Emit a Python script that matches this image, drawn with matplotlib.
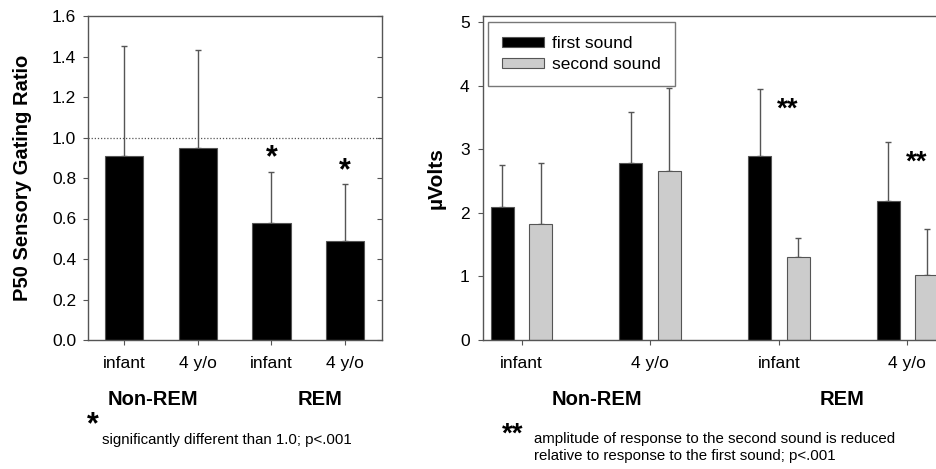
import matplotlib
matplotlib.use("Agg")
import matplotlib.pyplot as plt
import numpy as np

plt.rcParams['font.family'] = ['Liberation Sans', 'DejaVu Sans']

# left panel: gating ratio
groups = ["infant", "4 y/o", "infant", "4 y/o"]
ratio = [0.91, 0.95, 0.58, 0.49]
ratio_top = [1.45, 1.43, 0.83, 0.77]
ratio_stars = [None, None, "*", "*"]
ratio_star_y = [None, None, 0.92, 0.855]

# right panel: amplitudes
first_sound = [2.10, 2.78, 2.89, 2.19]
first_top = [2.76, 3.59, 3.95, 3.11]
second_sound = [1.82, 2.66, 1.31, 1.03]
second_top = [2.79, 3.97, 1.61, 1.75]
amp_stars = [None, None, "**", "**"]
amp_star_y = [None, None, 3.7, 2.86]

states = ["Non-REM", "REM"]
edge = "#555555"
STAR_DROP = 0.42  # glyph centre above baseline, in em

fig = plt.figure(figsize=(9.37, 4.69), dpi=100)
W, H = 937, 469


def px_axes(x0, y0, x1, y1):
    return fig.add_axes([x0 / W, 1 - y1 / H, (x1 - x0) / W, (y1 - y0) / H])


def star(ax, x, y, s, fs, **kw):
    # centre the asterisk glyph on (x, y)
    ax.annotate(s, (x, y), xytext=(0, -STAR_DROP * fs), textcoords="offset points",
                ha="center", va="baseline", fontsize=fs, fontweight="bold", **kw)


# ---- left panel
ax1 = px_axes(88, 16, 382, 340)
x = np.arange(len(groups))
ax1.bar(x, ratio, width=0.52, color="black", edgecolor=edge, linewidth=0.8, zorder=2)
err = np.array(ratio_top) - np.array(ratio)
ax1.errorbar(x, ratio, yerr=[np.zeros_like(err), err], fmt="none",
             ecolor=edge, elinewidth=1, capsize=2, capthick=1, zorder=1)
ax1.axhline(1.0, color="#555555", linestyle=(0, (1, 1.5)), linewidth=0.9, zorder=0)
ax1.set_xlim(-0.49, 3.5)
ax1.set_ylim(0, 1.6)
yt = np.arange(0, 1.61, 0.2)
ax1.set_yticks(yt)
ax1.set_yticklabels([f"{v:.1f}" for v in yt], fontsize=12.5)
ax1.set_xticks(x)
ax1.set_xticklabels(groups, fontsize=12.5)
ax1.tick_params(axis="y", direction="out", length=3.6, color=edge, right=True, pad=5)
ax1.tick_params(axis="x", direction="out", length=3.6, color=edge, pad=8)
for t in ax1.yaxis.get_major_ticks():
    t.tick2line.set_marker(matplotlib.markers.TICKLEFT)
for s in ax1.spines.values():
    s.set_color(edge)
    s.set_linewidth(1)
ax1.set_ylabel("P50 Sensory Gating Ratio", fontsize=14.5, fontweight="bold", labelpad=14)
for xi, sy, st in zip(x, ratio_star_y, ratio_stars):
    if st:
        star(ax1, xi, sy, st, 22)

ax1.text(0.221, -0.185, states[0], transform=ax1.transAxes, ha="center",
         fontsize=14.5, fontweight="bold", va="center")
ax1.text(0.789, -0.185, states[1], transform=ax1.transAxes, ha="center",
         fontsize=14.5, fontweight="bold", va="center")
fig.text(93 / W, 1 - 420 / H - STAR_DROP * 22 / 72 / 4.69, "*", fontsize=22,
         fontweight="bold", ha="center", va="baseline")
fig.text(102 / W, 1 - 440 / H, "significantly different than 1.0; p<.001",
         fontsize=10.8, ha="left", va="center")

# ---- right panel
ax2 = px_axes(483, 16, 946, 340)
w = 0.18
off = 0.15
ax2.bar(x - off, first_sound, width=w, color="black", edgecolor=edge,
        linewidth=0.8, zorder=2, label="first sound")
ax2.bar(x + off, second_sound, width=w, color="#cccccc", edgecolor=edge,
        linewidth=0.8, zorder=2, label="second sound")
e1 = np.array(first_top) - np.array(first_sound)
e2 = np.array(second_top) - np.array(second_sound)
ax2.errorbar(x - off, first_sound, yerr=[np.zeros_like(e1), e1], fmt="none",
             ecolor=edge, elinewidth=1, capsize=2, capthick=1, zorder=1)
ax2.errorbar(x + off, second_sound, yerr=[np.zeros_like(e2), e2], fmt="none",
             ecolor=edge, elinewidth=1, capsize=2, capthick=1, zorder=1)
ax2.set_xlim(-0.3, 3.3)
ax2.set_ylim(0, 5.1)
ax2.set_yticks(range(6))
ax2.set_yticklabels([str(v) for v in range(6)], fontsize=12.5)
ax2.set_xticks(x)
ax2.set_xticklabels(groups, fontsize=12.5)
ax2.tick_params(axis="y", direction="out", length=3.6, color=edge, pad=6)
ax2.tick_params(axis="x", direction="out", length=3.6, color=edge, pad=8)
for s in ax2.spines.values():
    s.set_color(edge)
    s.set_linewidth(1)
ax2.spines["right"].set_visible(False)
ax2.set_ylabel("\u00b5Volts", fontsize=15, fontweight="bold", labelpad=10)
for xi, sy, st in zip(x, amp_star_y, amp_stars):
    if st:
        star(ax2, xi + 0.07, sy, st, 20)

leg = ax2.legend(loc="upper left", bbox_to_anchor=(0.011, 0.981), borderaxespad=0,
                 fontsize=12.5, frameon=True, fancybox=False, edgecolor=edge,
                 handlelength=2.4, handleheight=0.5, handletextpad=0.5,
                 borderpad=0.8, labelspacing=0.37)
leg.get_frame().set_linewidth(1)

ax2.text(0.246, -0.185, states[0], transform=ax2.transAxes, ha="center",
         fontsize=14.5, fontweight="bold", va="center")
ax2.text(0.775, -0.185, states[1], transform=ax2.transAxes, ha="center",
         fontsize=14.5, fontweight="bold", va="center")
fig.text(513 / W, 1 - 430 / H - STAR_DROP * 20 / 72 / 4.69, "**", fontsize=20,
         fontweight="bold", ha="center", va="baseline")
fig.text(534 / W, 1 - 439 / H,
         "amplitude of response to the second sound is reduced",
         fontsize=10.8, ha="left", va="center")
fig.text(534 / W, 1 - 456 / H, "relative to response to the first sound; p<.001",
         fontsize=10.8, ha="left", va="center")

fig.savefig("out.png", dpi=100)
